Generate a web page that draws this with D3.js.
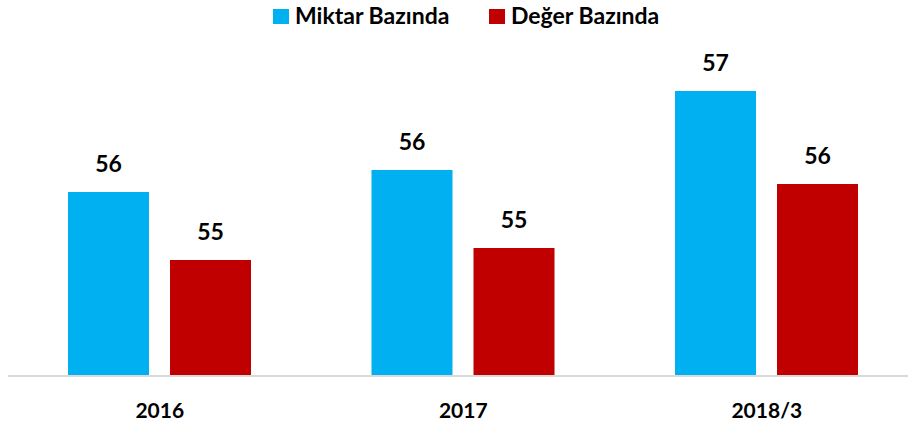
<!DOCTYPE html>
<html>
<head>
<meta charset="utf-8">
<script src="https://cdn.jsdelivr.net/npm/d3@7"></script>
<style>
  html, body { margin: 0; padding: 0; background: #fff; }
  svg { display: block; font-family: Lato, "Open Sans", sans-serif; }
</style>
</head>
<body>
<svg id="chart" width="908" height="425"></svg>
<script>
const categories = ["2016", "2017", "2018/3"];
const seriesNames = ["Miktar Bazında", "Değer Bazında"];
const miktar = [55.83, 56.05, 56.84];
const deger = [55.15, 55.27, 55.91];
const colors = ["#00B0F0", "#C00000"];

const data = categories.map((c, i) => ({ cat: c, values: [miktar[i], deger[i]] }));

const svg = d3.select("#chart");
const baseY = 375;

const x0 = d3.scaleBand().domain(categories).range([8, 918.5]).paddingInner(0).paddingOuter(0);
const x1 = d3.scaleBand().domain(seriesNames).range([60, 243]).paddingInner(0.206);
const y = d3.scaleLinear().domain([54, 57.35]).range([baseY, 40]);

const groups = svg.append("g").selectAll("g").data(data).join("g")
  .attr("transform", d => `translate(${x0(d.cat)},0)`);

groups.selectAll("rect").data(d => d.values.map((v, j) => ({ v, s: seriesNames[j], j })))
  .join("rect")
  .attr("x", d => x1(d.s))
  .attr("width", x1.bandwidth())
  .attr("y", d => y(d.v))
  .attr("height", d => baseY - y(d.v))
  .attr("fill", d => colors[d.j]);

groups.selectAll("text.val").data(d => d.values.map((v, j) => ({ v, s: seriesNames[j], j })))
  .join("text")
  .attr("class", "val")
  .attr("x", d => x1(d.s) + x1.bandwidth() / 2)
  .attr("y", d => y(d.v) - 20)
  .attr("text-anchor", "middle")
  .attr("font-size", 23)
  .attr("font-weight", "bold")
  .attr("fill", "#000")
  .text(d => d3.format(".0f")(d.v));

// axis baseline
svg.append("line")
  .attr("x1", 8).attr("x2", 908)
  .attr("y1", baseY + 1).attr("y2", baseY + 1)
  .attr("stroke", "#d9d9d9").attr("stroke-width", 2);

// category labels
const xAxis = d3.axisBottom(x0).tickSize(0).tickPadding(0);
const ax = svg.append("g").attr("transform", `translate(0,${baseY})`).call(xAxis);
ax.select(".domain").remove();
ax.selectAll("text")
  .attr("dy", null)
  .attr("y", 43)
  .attr("font-size", 21)
  .attr("font-weight", "bold")
  .attr("font-family", "Lato, sans-serif")
  .attr("fill", "#000");

// legend
const legendItems = [{ x: 273, name: seriesNames[0], c: colors[0] }, { x: 489, name: seriesNames[1], c: colors[1] }];
const lg = svg.append("g").selectAll("g").data(legendItems).join("g")
  .attr("transform", d => `translate(${d.x},0)`);
lg.append("rect").attr("x", 0).attr("y", 9).attr("width", 16).attr("height", 15).attr("fill", d => d.c);
lg.append("text").attr("x", 22).attr("y", 24)
  .attr("font-size", 23).attr("font-weight", "bold").attr("fill", "#000")
  .text(d => d.name);
</script>
</body>
</html>
